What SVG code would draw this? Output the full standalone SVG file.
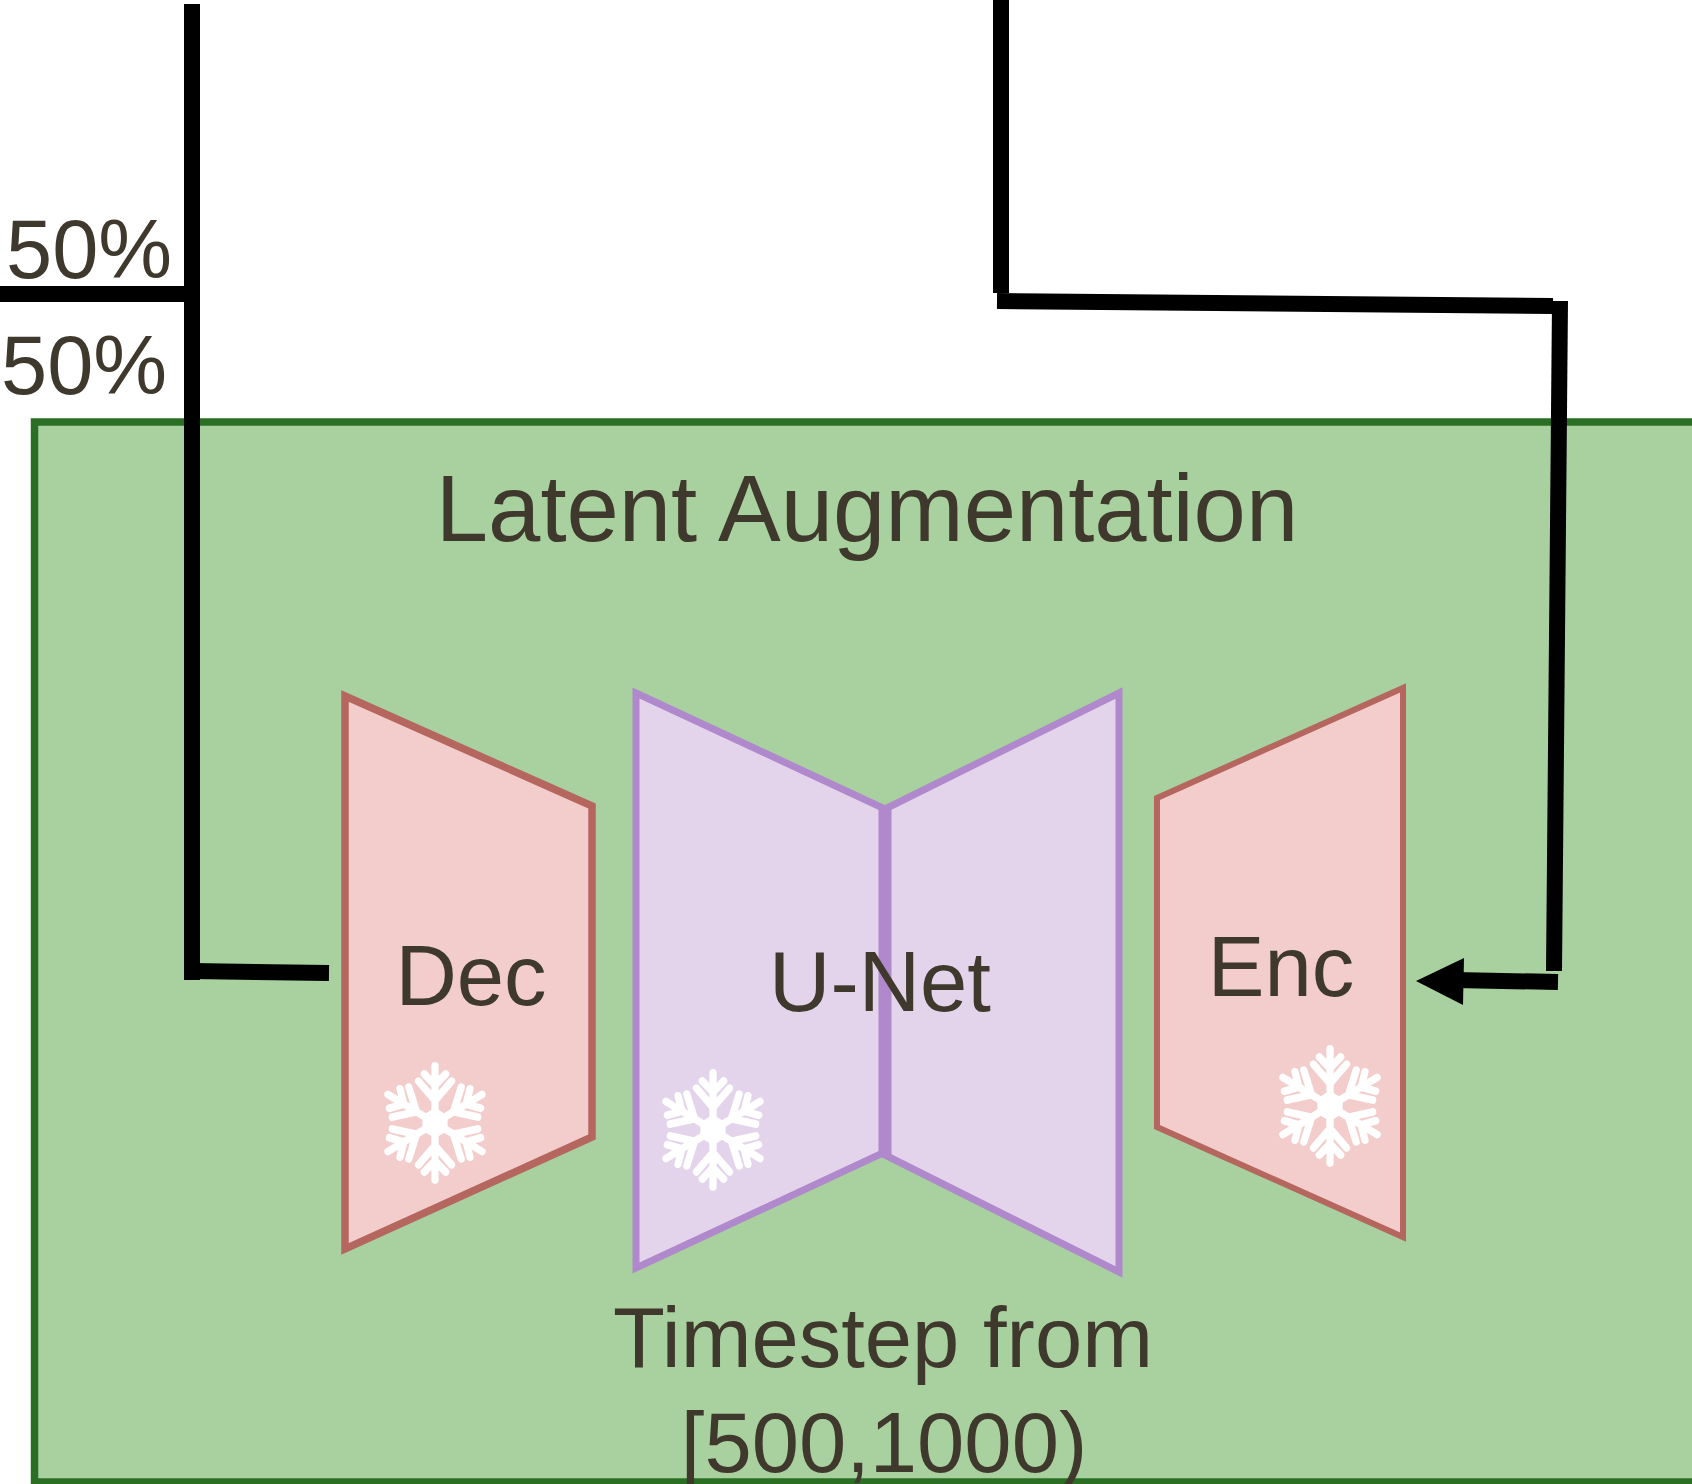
<svg xmlns="http://www.w3.org/2000/svg" width="1692" height="1484" viewBox="0 0 1692 1484">
<style>
text{font-family:"Liberation Sans",Arial,sans-serif;fill:#3f382c;font-size:85px}
.c{stroke:#000;stroke-width:16;fill:none}
.r{fill:#f2cdcb;stroke:#b5675f;stroke-width:7.5}
.p{fill:#e3d4ec;stroke:#b088cc;stroke-width:7}
.f{stroke:#fff;stroke-width:7.5;stroke-linecap:round;stroke-linejoin:round;fill:none}
</style>
<defs>
<g id="flake">
<path id="arm" class="f" d="M0 0V-56M-11 -48L0 -37L11 -48M-17 -41L0 -22L17 -41"/>
<use href="#arm" transform="rotate(60)"/><use href="#arm" transform="rotate(120)"/><use href="#arm" transform="rotate(180)"/><use href="#arm" transform="rotate(240)"/><use href="#arm" transform="rotate(300)"/>
<polygon points="0,-15 13,-7.500 13,7.500 0,15 -13,7.500 -13,-7.500" fill="#fff"/>
</g>
</defs>
<rect id="bg" width="1692" height="1484" fill="#fff"/>
<g id="latent">
<rect x="34.500" y="422" width="1670" height="1060" fill="#a9d19f" stroke="#2b6f24" stroke-width="7.500"/>
<text x="867" y="541" text-anchor="middle" style="font-size:94px">Latent Augmentation</text>
<text x="883" y="1367" text-anchor="middle">Timestep from</text>
<text x="884" y="1472" text-anchor="middle">[500,1000)</text>
</g>
<g id="dec">
<polygon class="r" points="345,696 592,806 592,1137 345,1249"/>
<text x="471" y="1005" text-anchor="middle">Dec</text>
<use href="#flake" transform="translate(435,1123) scale(.97,1.02)"/>
</g>
<g id="unet">
<polygon class="p" points="636,693 885,809 885,1152 636,1268"/>
<polygon class="p" points="885,809 1119,693 1119,1272 885,1155"/>
<path d="M885 809V1155" stroke="#b088cc" stroke-width="13" fill="none"/>
<text x="880" y="1011" text-anchor="middle">U-Net</text>
<use href="#flake" transform="translate(713,1130) scale(.97,1.02)"/>
</g>
<g id="enc">
<polygon class="r" style="stroke-width:6" points="1157,798 1403,688 1403,1237 1157,1127"/>
<text x="1281" y="996" text-anchor="middle">Enc</text>
<use href="#flake" transform="translate(1330,1106) scale(.97,1.02)"/>
</g>
<g id="connectors">
<path class="c" d="M192 4V980"/>
<path class="c" d="M0 294H200"/>
<path class="c" d="M192 971L329 973"/>
<path class="c" d="M1001 0V293"/>
<path class="c" d="M997 301L1553 306"/>
<path class="c" d="M1560 301L1554 971"/>
<path class="c" d="M1558 982L1455 980"/>
<polygon points="1416,981 1464,958 1463,1005" fill="#000"/>
</g>
<g id="labels">
<text x="6" y="278" style="font-size:83px">50%</text>
<text x="1" y="394" style="font-size:83px">50%</text>
</g>
</svg>
